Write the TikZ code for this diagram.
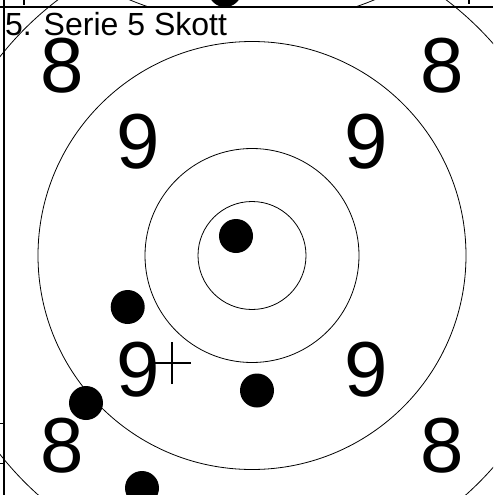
\documentclass[tikz,border=0pt]{standalone}
\usepackage{fontspec}
\setmainfont{Liberation Sans}

\tikzstyle{every node}=[inner sep=0pt, font={\fontsize{78}{80}\selectfont}]
\tikzstyle{ring}=[line width=0.8pt]
\tikzstyle{shot}=[circle, fill=black, minimum size=34pt]
\tikzstyle{framerule}=[line width=2.2pt]
\tikzstyle{seriestitle}=[anchor=base west, font={\fontsize{32}{34}\selectfont}]

\begin{document}
\begin{tikzpicture}[x=1pt, y=-1pt]
    \useasboundingbox (0,0) rectangle (493,495);
    \clip (0,0) rectangle (493,495);
    \fill[white] (0,0) rectangle (493,495);

    \coordinate (centre) at (252,255.5);
    \coordinate (prevcentre) at (252,-297);
    \coordinate (cross) at (172,363);

    \begin{scope}
        \clip (0,0) rectangle (493,7);
        \draw[ring] (prevcentre) circle[radius=321pt];
    \end{scope}
    \node [shot] (prevshot) at (225,-10) {};
    \draw[line width=2.6pt] (24,0) -- (24,5);
    \draw[line width=2.6pt] (469,0) -- (469,4);

    \draw[ring] (centre) circle[radius=54pt];
    \draw[ring] (centre) circle[radius=107pt];
    \draw[ring] (centre) circle[radius=214pt];
    \draw[ring] (centre) circle[radius=321pt];

    \node (eightNW) at ([shift={(-190,-190)}]centre) {8};
    \node (eightNE) at ([shift={(190,-190)}]centre) {8};
    \node (eightSW) at ([shift={(-190,190)}]centre) {8};
    \node (eightSE) at ([shift={(190,190)}]centre) {8};
    \node (nineNW) at ([shift={(-114,-114)}]centre) {9};
    \node (nineNE) at ([shift={(114,-114)}]centre) {9};
    \node (nineSW) at ([shift={(-114,114)}]centre) {9};
    \node (nineSE) at ([shift={(114,114)}]centre) {9};

    \node [shot] (shotA) at (236,236) {};
    \node [shot] (shotB) at (127.7,307) {};
    \node [shot] (shotC) at (257,390.5) {};
    \node [shot] (shotD) at (86,403) {};
    \node [shot] (shotE) at (142,488) {};

    \draw[line width=1.3pt] ([xshift=-18pt]cross) -- ([xshift=19pt]cross);
    \draw[line width=1.3pt] ([yshift=-21pt]cross) -- ([yshift=21pt]cross);

    \draw[framerule] (0,7) -- (493,7);
    \draw[framerule] (3.8,0) -- (3.8,495);
    \draw[line width=1pt] (0,423) -- (4,423);
    \draw[line width=1pt] (0,463) -- (4,463);

    \node [seriestitle] (title) at (5,36) {5. Serie 5 Skott};
\end{tikzpicture}
\end{document}
